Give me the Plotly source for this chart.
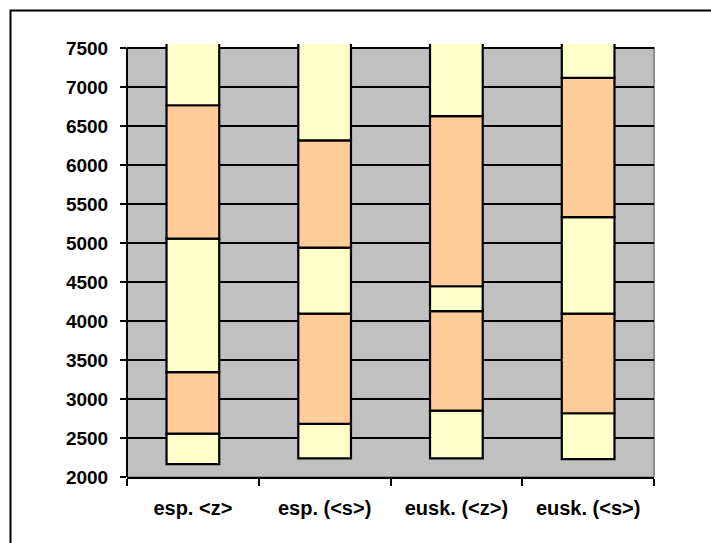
import plotly.graph_objects as go

categories = ["esp. <z>", "esp. (<s>)", "eusk. (<z>)", "eusk. (<s>)"]
# segment boundaries (bottom -> top) for each category
bounds_esp_z = [2165, 2555, 3345, 5055, 6765, 8000]
bounds_esp_s = [2240, 2680, 4095, 4940, 6315, 8000]
bounds_eusk_z = [2240, 2850, 4125, 4445, 6625, 8000]
bounds_eusk_s = [2228, 2817, 4095, 5330, 7115, 8000]
all_bounds = [bounds_esp_z, bounds_esp_s, bounds_eusk_z, bounds_eusk_s]
seg_colors = ["#FFFFCC", "#FFCC99", "#FFFFCC", "#FFCC99", "#FFFFCC"]

labels = [c.replace("<", "&lt;").replace(">", "&gt;") for c in categories]

fig = go.Figure()
for k, col in enumerate(seg_colors):
    fig.add_trace(go.Bar(
        x=labels,
        base=[b[k] for b in all_bounds],
        y=[b[k + 1] - b[k] for b in all_bounds],
        marker=dict(color=col, line=dict(color="black", width=2.2)),
        width=0.4,
        showlegend=False,
        hoverinfo="skip",
    ))

W, H = 711, 543
L, R, T, B = 127, 57, 44, 66
pw, ph = W - L - R, H - T - B

def px_x(p):
    return (p - L) / pw

def px_y(p):
    return 1 - (p - T) / ph

fig.update_layout(
    width=W, height=H,
    margin=dict(l=L, r=R, t=T, b=B),
    barmode="overlay",
    paper_bgcolor="white",
    plot_bgcolor="rgba(0,0,0,0)",
    font=dict(family="Liberation Sans", color="black"),
    xaxis=dict(
        type="category",
        showline=True, linecolor="black", linewidth=2,
        ticks="outside", tickson="boundaries", ticklen=7, tickwidth=2, tickcolor="black",
        showgrid=False,
        tickfont=dict(size=20, family="Liberation Sans", weight="bold"),
        ticklabelstandoff=12,
        range=[-0.5, 3.5],
    ),
    yaxis=dict(
        range=[2000, 7550],
        tick0=2000, dtick=500,
        ticks="outside", ticklen=6, tickwidth=2, tickcolor="black",
        showgrid=True, gridcolor="black", gridwidth=2.2,
        showline=False, zeroline=False,
        tickfont=dict(size=19, family="Liberation Sans", weight="bold"),
        ticklabelstandoff=8,
    ),
    shapes=[
        dict(type="rect", xref="paper", yref="y", x0=0, x1=1, y0=2000, y1=7500,
             fillcolor="#C0C0C0", line=dict(color="#909090", width=2), layer="below"),
        dict(type="line", xref="paper", yref="y", x0=0, x1=0, y0=2000, y1=7500,
             line=dict(color="black", width=2), layer="above"),
        dict(type="rect", xref="paper", yref="paper",
             x0=px_x(10.5), x1=px_x(730), y0=px_y(10.5), y1=px_y(560),
             line=dict(color="black", width=2), fillcolor="rgba(0,0,0,0)", layer="above"),
    ],
)

fig.write_html("out.html", config={"displayModeBar": False},
               post_script="document.body.style.margin='0';")
